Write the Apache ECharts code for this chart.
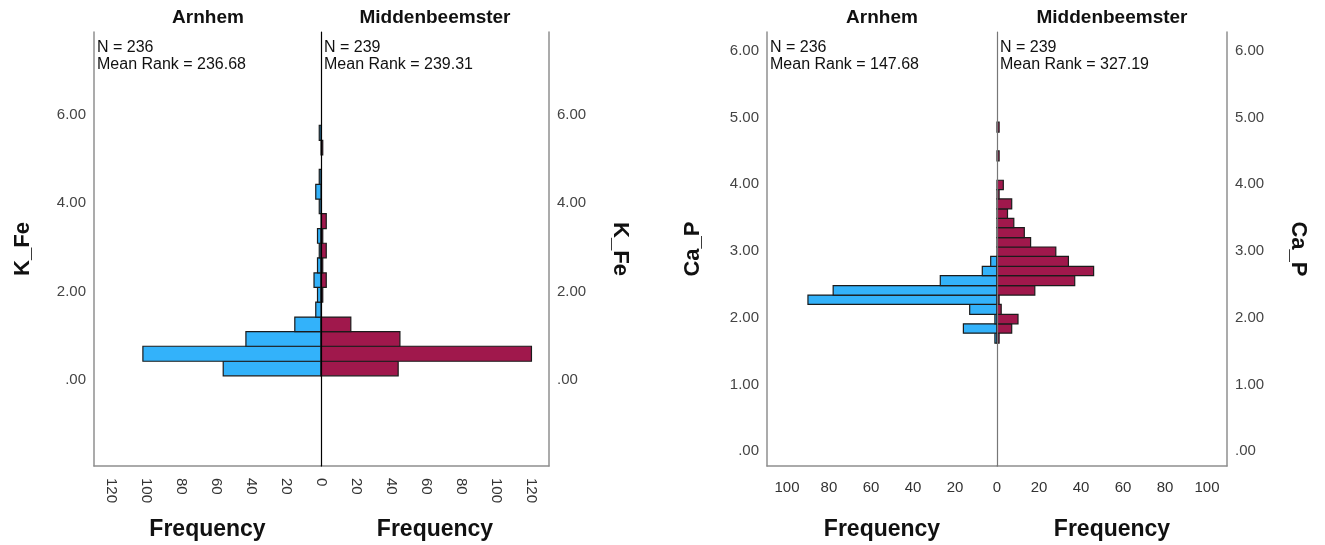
<!DOCTYPE html>
<html><head><meta charset="utf-8">
<script src="https://cdn.jsdelivr.net/npm/echarts@6/dist/echarts.min.js"></script>
<style>html,body{margin:0;padding:0;background:#fff}#c{width:1325px;height:545px}</style>
</head><body><div id="c"></div>
<script>
// ---- data ----
const groups = ['Arnhem', 'Middenbeemster'];
const kfeN = [236, 239];
const kfeMeanRank = ['236.68', '239.31'];
const capN = [236, 239];
const capMeanRank = ['147.68', '327.19'];

// K_Fe histogram bin edges and counts
const kfeBins = [0.09,0.42,0.76,1.09,1.42,1.76,2.09,2.42,2.76,3.09,3.42,3.76,4.09,4.42,4.76,5.09,5.42,5.76];
const kfeArnhem = [56,102,43,15,3,2,4,2,1,2,0,1,3,1,0,0,1];
const kfeMidden = [44,120,45,17,0,1,3,1,3,1,3,0,0,0,0,1,0];

// Ca_P histogram bin edges and counts
const capBins = [1.62,1.77,1.91,2.05,2.20,2.34,2.48,2.63,2.77,2.92,3.06,3.20,3.35,3.49,3.63,3.78,3.92,4.06,4.21,4.35,4.50,4.64,4.78,4.93];
const capArnhem = [1,16,1,13,90,78,27,7,3,0,0,0,0,0,0,0,0,0,0,0,0,0,0];
const capMidden = [1,7,10,2,1,18,37,46,34,28,16,13,8,5,7,1,3,0,0,1,0,0,1];

// axis ticks / extents
const kfeTicks = [0, 2, 4, 6];
const capTicks = [0, 1, 2, 3, 4, 5, 6];
const kfeFreqTicks = [0, 20, 40, 60, 80, 100, 120];
const capFreqTicks = [0, 20, 40, 60, 80, 100];
const kfeRange = [-1.95, 7.87];
const capRange = [-0.22, 6.28];
const kfeFreqMax = 130;
const capFreqMax = 109.5;

// ---- chart ----
const FONT = '"Liberation Sans", Arial, sans-serif';
const BLUE = '#33b2fa', RED = '#a0184c';
const FRAME = '#8f8f8f';

function toData(bins, counts) {
  return counts.map((c, i) => [bins[i], bins[i + 1], c]);
}
function renderBar(params, api) {
  const lo = api.value(0), hi = api.value(1), n = api.value(2);
  if (!n) return null;
  const p0 = api.coord([0, lo]);
  const p1 = api.coord([n, hi]);
  return {
    type: 'rect',
    shape: { x: Math.min(p0[0], p1[0]), y: Math.min(p0[1], p1[1]),
             width: Math.abs(p1[0] - p0[0]), height: Math.abs(p1[1] - p0[1]) },
    style: { fill: api.visual('color'), stroke: '#1b1b1b', lineWidth: 1.2 }
  };
}
const fmtY = v => (v === 0 ? '.00' : Number(v).toFixed(2));

function xAxis(grid, max, ticks, inverse, rotate, margin, gap) {
  return {
    gridIndex: grid, type: 'value', min: 0, max: max, inverse: inverse,
    axisLine: { show: true, onZero: false, lineStyle: { color: FRAME, width: 1.5 } },
    axisTick: { show: false }, splitLine: { show: false },
    axisLabel: { customValues: ticks, rotate: rotate, margin: margin, fontSize: 15,
                 color: '#333', fontFamily: FONT },
    name: 'Frequency', nameLocation: 'middle', nameGap: gap,
    nameTextStyle: { fontSize: 23, fontWeight: 'bold', color: '#111', fontFamily: FONT }
  };
}
function yAxis(grid, pos, range, ticks, name, rot, gap, lineColor, showLabel, z) {
  return {
    gridIndex: grid, type: 'value', position: pos, min: range[0], max: range[1], z: z || 0,
    axisLine: { show: true, onZero: false, lineStyle: { color: lineColor, width: showLabel ? 1.5 : 1.2 } },
    axisTick: { show: false }, splitLine: { show: false },
    axisLabel: { show: showLabel, customValues: ticks, formatter: fmtY, margin: 8, fontSize: 15,
                 color: '#444', fontFamily: FONT },
    name: name, nameLocation: 'middle', nameRotate: rot, nameGap: gap,
    nameTextStyle: { fontSize: 22, fontWeight: 'bold', color: '#111', fontFamily: FONT }
  };
}
function txt(x, y, text, size, bold, align, lh) {
  return { type: 'text', x: x, y: y, z: 100,
    style: { text: text, fontSize: size, fontWeight: bold ? 'bold' : 'normal', fontFamily: FONT,
             fill: '#111', align: align, verticalAlign: 'top', lineHeight: lh || size + 2 } };
}

const chart = echarts.init(document.getElementById('c'), null, { renderer: 'canvas' });
chart.setOption({
  animation: false,
  backgroundColor: '#fff',
  grid: [
    { left: 94, top: 32, width: 227, height: 434, outerBoundsMode: 'none' },
    { left: 321, top: 32, width: 228, height: 434, outerBoundsMode: 'none' },
    { left: 767, top: 32, width: 230, height: 434, outerBoundsMode: 'none' },
    { left: 997, top: 32, width: 230, height: 434, outerBoundsMode: 'none' }
  ],
  xAxis: [
    xAxis(0, kfeFreqMax, kfeFreqTicks.filter(v => v > 0), true, -90, 12, 52),
    xAxis(1, kfeFreqMax, kfeFreqTicks, false, -90, 12, 52),
    xAxis(2, capFreqMax, capFreqTicks.filter(v => v > 0), true, 0, 14, 52),
    xAxis(3, capFreqMax, capFreqTicks, false, 0, 14, 52)
  ],
  yAxis: [
    yAxis(0, 'left', kfeRange, kfeTicks, 'K_Fe', 90, 60, FRAME, true),
    yAxis(1, 'left', kfeRange, kfeTicks, '', 0, 0, '#000', false, 5),
    yAxis(1, 'right', kfeRange, kfeTicks, 'K_Fe', -90, 60, FRAME, true),
    yAxis(2, 'left', capRange, capTicks, 'Ca_P', 90, 63, FRAME, true),
    yAxis(3, 'left', capRange, capTicks, '', 0, 0, '#777', false, 5),
    yAxis(3, 'right', capRange, capTicks, 'Ca_P', -90, 60, FRAME, true)
  ],
  series: [
    { type: 'custom', name: groups[0], xAxisIndex: 0, yAxisIndex: 0, itemStyle: { color: BLUE },
      renderItem: renderBar, encode: { x: 2, y: [0, 1] }, data: toData(kfeBins, kfeArnhem) },
    { type: 'custom', name: groups[1], xAxisIndex: 1, yAxisIndex: 1, itemStyle: { color: RED },
      renderItem: renderBar, encode: { x: 2, y: [0, 1] }, data: toData(kfeBins, kfeMidden) },
    { type: 'custom', name: groups[0], xAxisIndex: 2, yAxisIndex: 3, itemStyle: { color: BLUE },
      renderItem: renderBar, encode: { x: 2, y: [0, 1] }, data: toData(capBins, capArnhem) },
    { type: 'custom', name: groups[1], xAxisIndex: 3, yAxisIndex: 4, itemStyle: { color: RED },
      renderItem: renderBar, encode: { x: 2, y: [0, 1] }, data: toData(capBins, capMidden) }
  ],
  graphic: [
    txt(208, 7, groups[0], 19, true, 'center'),
    txt(435, 7, groups[1], 19, true, 'center'),
    txt(882, 7, groups[0], 19, true, 'center'),
    txt(1112, 7, groups[1], 19, true, 'center'),
    txt(97, 39, 'N = ' + kfeN[0] + '\nMean Rank = ' + kfeMeanRank[0], 16, false, 'left', 17),
    txt(324, 39, 'N = ' + kfeN[1] + '\nMean Rank = ' + kfeMeanRank[1], 16, false, 'left', 17),
    txt(770, 39, 'N = ' + capN[0] + '\nMean Rank = ' + capMeanRank[0], 16, false, 'left', 17),
    txt(1000, 39, 'N = ' + capN[1] + '\nMean Rank = ' + capMeanRank[1], 16, false, 'left', 17)
  ]
});
</script></body></html>
